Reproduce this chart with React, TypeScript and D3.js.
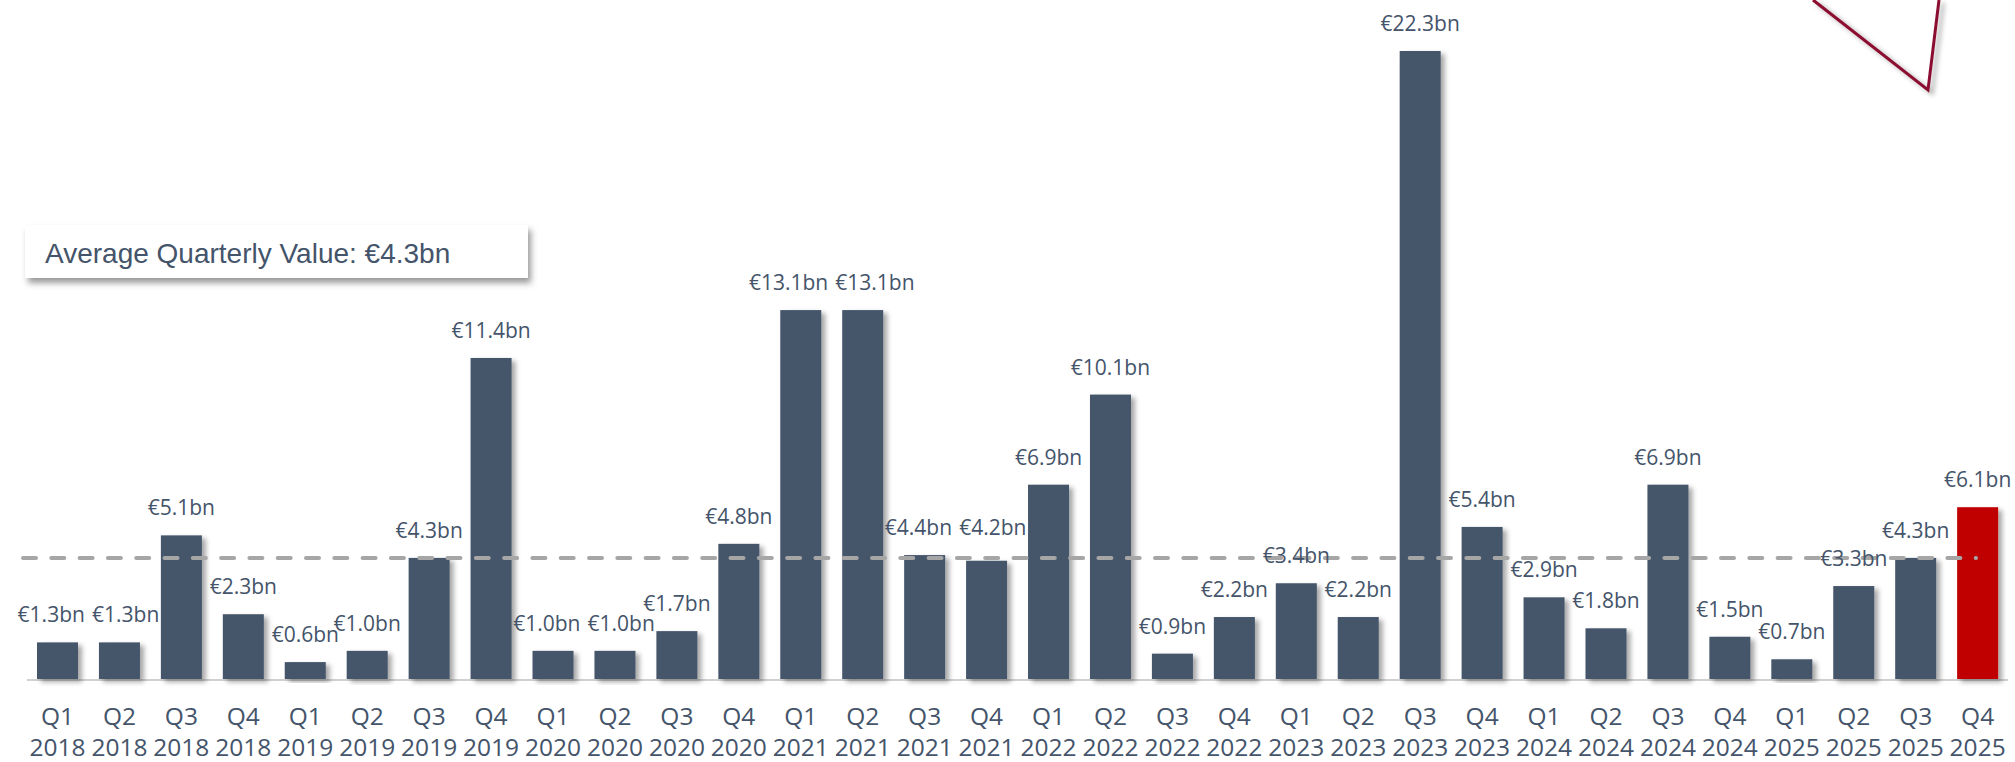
import React from "react";
import * as d3 from "d3";

const quarters = ["Q1", "Q2", "Q3", "Q4"];
const years = ["2018", "2019", "2020", "2021", "2022", "2023", "2024", "2025"];
const values = [
  1.3, 1.3, 5.1, 2.3,
  0.6, 1.0, 4.3, 11.4,
  1.0, 1.0, 1.7, 4.8,
  13.1, 13.1, 4.4, 4.2,
  6.9, 10.1, 0.9, 2.2,
  3.4, 2.2, 22.3, 5.4,
  2.9, 1.8, 6.9, 1.5,
  0.7, 3.3, 4.3, 6.1,
];
const averageValue = 4.3;
const legendText = "Average Quarterly Value: €4.3bn";

const W = 2015;
const H = 762;
const TEXT = "#44546a";
const BAR = "#44546a";
const RED = "#c00000";
const LABEL_FS = 21;

function labelWidth(s: string) {
  let w = 0;
  for (const ch of s) {
    if (ch === ".") w += 0.27;
    else if (ch === "b" || ch === "n") w += 0.613;
    else w += 0.572;
  }
  return w * LABEL_FS;
}

export default function App() {
  const cats = years.flatMap((y) => quarters.map((q) => `${q} ${y}`));
  const step = 61.94;
  const bw = 41;
  const firstLeft = 37;
  const xs = d3
    .scaleLinear()
    .domain([0, cats.length - 1])
    .range([firstLeft, firstLeft + step * (cats.length - 1)]);
  const y = d3.scaleLinear().domain([0, 22.3]).range([679, 51]);
  const baseY = y(0);
  const avgY = y(averageValue);

  // label layout with simple collision avoidance between neighbours
  const labels = values.map((v, i) => {
    const text = `€${v.toFixed(1)}bn`;
    return { text, cx: xs(i) + bw / 2, ly: y(v) - 20, w: labelWidth(text) };
  });
  const gap = 7;
  for (let i = 0; i < labels.length - 1; i++) {
    const a = labels[i];
    const b = labels[i + 1];
    if (Math.abs(a.ly - b.ly) < 8) {
      const overlap = a.cx + a.w / 2 + gap - (b.cx - b.w / 2);
      if (overlap > 0) {
        a.cx -= overlap / 2;
        b.cx += overlap / 2;
        const ny = Math.min(a.ly, b.ly);
        a.ly = ny;
        b.ly = ny;
      }
    }
  }

  return (
    <div style={{ position: "fixed", left: 0, top: 0 }}>
      <svg width={W} height={H} style={{ display: "block", background: "#fff" }}>
        <defs>
          <filter id="sh" x="-20%" y="-20%" width="160%" height="140%">
            <feDropShadow dx="4" dy="3" stdDeviation="2.5" floodColor="#000" floodOpacity="0.35" />
          </filter>
          <filter id="shBox" x="-10%" y="-30%" width="120%" height="180%">
            <feDropShadow dx="3" dy="5" stdDeviation="3" floodColor="#000" floodOpacity="0.4" />
          </filter>
        </defs>
        {/* callout triangle fragment */}
        <path d="M1813,0 L1928,90 L1939,0" fill="none" stroke="#8b1030" strokeWidth={3} filter="url(#sh)" />

        {/* baseline */}
        <line x1={27} x2={2008} y1={baseY + 1} y2={baseY + 1} stroke="#d0d0d0" strokeWidth={2} />

        {values.map((v, i) => {
          const left = xs(i);
          const top = y(v);
          return (
            <rect
              key={i}
              x={left}
              y={top}
              width={bw}
              height={baseY - top}
              fill={i === values.length - 1 ? RED : BAR}
              filter="url(#sh)"
            />
          );
        })}

        {/* average dashed line */}
        <line
          x1={23}
          x2={1976}
          y1={avgY}
          y2={avgY}
          stroke="#a6a6a6"
          strokeWidth={4}
          strokeDasharray="13 15.3"
          strokeLinecap="round"
        />

        {labels.map((l, i) => (
          <text
            key={"l" + i}
            x={l.cx}
            y={l.ly}
            textAnchor="middle"
            fontFamily="'Open Sans', sans-serif"
            fontSize={LABEL_FS}
            fill={TEXT}
          >
            {l.text}
          </text>
        ))}

        {cats.map((c, i) => {
          const [q, yr] = c.split(" ");
          return (
            <g key={"x" + i} fontFamily="'Open Sans', sans-serif" fontSize={24.5} fill={TEXT} textAnchor="middle">
              <text x={xs(i) + bw / 2} y={725}>{q}</text>
              <text x={xs(i) + bw / 2} y={756}>{yr}</text>
            </g>
          );
        })}

        {/* legend box */}
        <rect x={25} y={225} width={503} height={53} fill="#fff" filter="url(#shBox)" />
        <text x={45} y={263} fontFamily="'Liberation Sans', Arial, sans-serif" fontSize={28} fill={TEXT}>
          {legendText}
        </text>
      </svg>
    </div>
  );
}
